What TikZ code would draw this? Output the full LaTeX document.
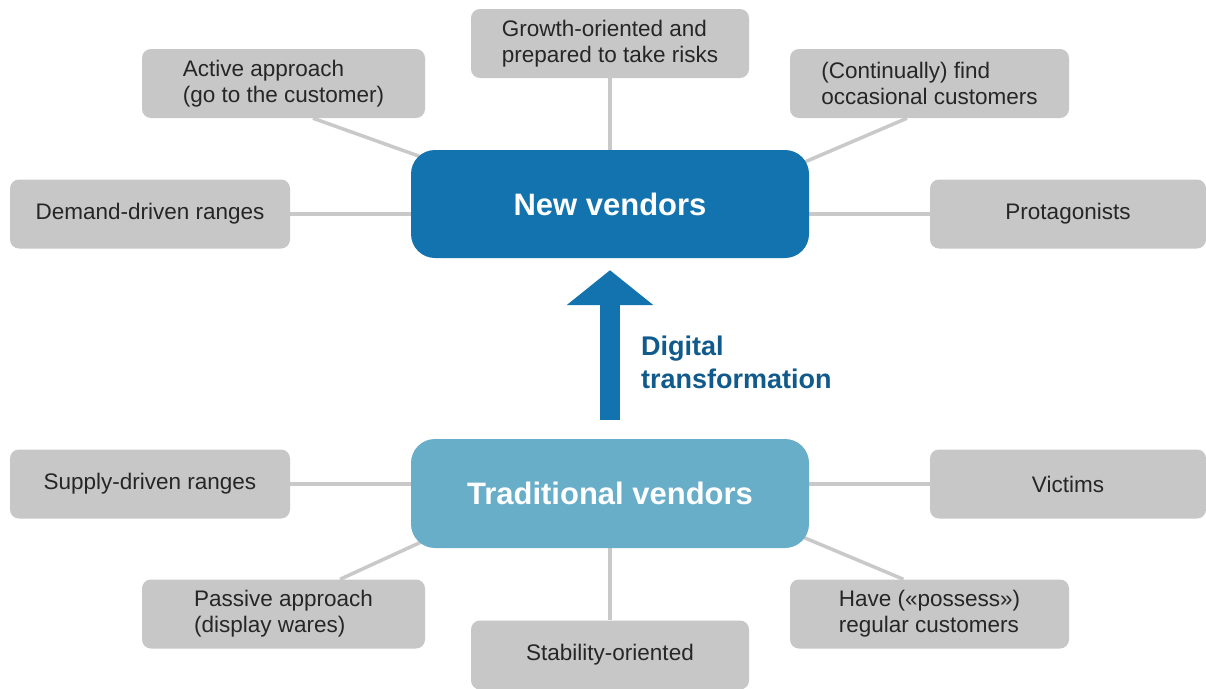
\documentclass[tikz,border=0pt]{standalone}
\usepackage{fontspec}
\setmainfont{Liberation Sans}
\usetikzlibrary{arrows.meta,backgrounds,calc}

\definecolor{newblue}{HTML}{1373AE}
\definecolor{tradblue}{HTML}{68AEC9}
\definecolor{boxgray}{HTML}{C6C7C6}
\definecolor{linegray}{HTML}{C9C9C9}
\definecolor{labelblue}{HTML}{115A8C}
\definecolor{textgray}{HTML}{262626}

\tikzset{
  trait/.style={fill=boxgray, rounded corners=9pt, inner sep=0pt,
    minimum width=280pt, minimum height=69pt, align=left,
    text=textgray, font=\fontsize{22.5}{26}\selectfont},
  vendor/.style={rounded corners=24pt, inner sep=0pt,
    minimum width=398pt, minimum height=108pt, text=white,
    font=\bfseries\fontsize{31}{36}\selectfont},
  spoke/.style={draw=linegray, line width=3.5pt},
  bigarrow/.style={draw=newblue, line width=20pt,
    -{Triangle[width=85pt,length=35pt]}},
}

\begin{document}
\begin{tikzpicture}[x=1pt, y=-1pt]
  \useasboundingbox (0,0) rectangle (1206,688);

  % central vendor boxes
  \node[vendor, fill=newblue] (new) at (610,204) {New vendors};
  \node[vendor, fill=tradblue, minimum height=109pt] (trad) at (610,493.5) {Traditional vendors};

  % traits of new vendors
  \node[trait, minimum width=283pt] (act) at (283.5,83.5) {Active approach\\(go to the customer)};
  \node[trait, minimum width=278pt] (grow) at (610,43.5) {Growth-oriented and\\prepared to take risks};
  \node[trait, minimum width=279pt] (cont) at (929.5,83.5) {(Continually) find\\occasional customers};
  \node[trait] (dem) at (150,214) {Demand-driven ranges};
  \node[trait, minimum width=276pt] (prot) at (1068,214) {Protagonists};

  % traits of traditional vendors
  \node[trait] (sup) at (150,484) {Supply-driven ranges};
  \node[trait, minimum width=276pt] (vic) at (1068,484) {Victims};
  \node[trait, minimum width=283pt] (pas) at (283.5,614) {Passive approach\\(display wares)};
  \node[trait, minimum width=278pt] (stab) at (610,655) {Stability-oriented};
  \node[trait, minimum width=279pt] (have) at (929.5,614) {Have («possess»)\\regular customers};

  % white page and spokes, drawn behind the boxes
  \begin{scope}[on background layer]
    \fill[white] (0,0) rectangle (1206,688);
    % spokes of the new vendors
    \draw[spoke] ($(act.south)+(29.5,0)$) -- ($(new.north west)+(10,7)$);
    \draw[spoke] (grow.south) -- (new.north);
    \draw[spoke] ($(cont.south)+(-22.5,0)$) -- ($(new.north east)+(-4,12)$);
    \draw[spoke] (dem.east) -- (dem.east -| new.west);
    \draw[spoke] (prot.west) -- (prot.west -| new.east);
    % spokes of the traditional vendors
    \draw[spoke] ($(pas.north)+(56.5,0)$) -- ($(trad.south west)+(10,-6)$);
    \draw[spoke] (stab.north) -- (trad.south);
    \draw[spoke] ($(have.north)+(-26,0)$) -- ($(trad.south east)+(-6,-11)$);
    \draw[spoke] (sup.east) -- (sup.east -| trad.west);
    \draw[spoke] (vic.west) -- (vic.west -| trad.east);
  \end{scope}

  % transformation arrow
  \draw[bigarrow, shorten <=19pt, shorten >=12pt] (trad.north) -- (new.south);
  \node[anchor=north west, align=left, inner sep=0pt, text=labelblue,
        font=\bfseries\fontsize{27}{33}\selectfont] (dt) at (641,336)
        {Digital\\transformation};
\end{tikzpicture}
\end{document}
